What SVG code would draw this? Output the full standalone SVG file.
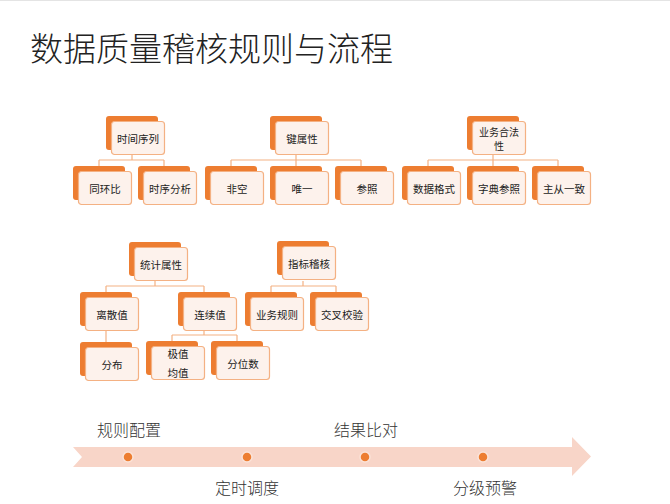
<svg xmlns="http://www.w3.org/2000/svg" width="670" height="504" viewBox="0 0 670 504">
<style>
.bk{fill:#ED7D31}
.fr{fill:#FDF2EC;stroke:#F4B183;stroke-width:1.2}
.t{font-family:"Noto Sans CJK SC","Noto Sans",sans-serif;font-size:10.5px;fill:#222;text-anchor:middle;dominant-baseline:central}
.ln{stroke:#F4B183;stroke-width:1.2;fill:none}
.tl{font-family:"Noto Sans CJK SC","Noto Sans",sans-serif;font-size:16px;font-weight:300;fill:#333;text-anchor:middle;dominant-baseline:central}
.dot{fill:#ED7D31;stroke:#FBE3D8;stroke-width:1.5}
</style>
<defs>
<g id="box">
<rect class="bk" x="0" y="0" width="52" height="34" rx="3"/>
<rect class="fr" x="5.5" y="5.5" width="53" height="33" rx="3"/>
</g>
</defs>
<rect x="0" y="0" width="670" height="504" fill="#fff"/>
<line x1="0" y1="0.5" x2="670" y2="0.5" stroke="#e4e4e4" stroke-width="1"/>
<text x="30" y="47" style="font-family:'Noto Sans CJK SC',sans-serif;font-size:33px;font-weight:300;fill:#222;dominant-baseline:central">数据质量稽核规则与流程</text>

<g id="connectors">
<path class="ln" d="M132 155V160M99 160H164M99 160V166M164 160V166"/>
<path class="ln" d="M296 155V160M231 160H361M231 160V166M296 160V166M361 160V166"/>
<path class="ln" d="M493 155V160M428 160H558M428 160V166M493 160V166M558 160V166"/>
<path class="ln" d="M155 281V286M106 286H204M106 286V292M204 286V292"/>
<path class="ln" d="M106 330V342"/>
<path class="ln" d="M204 330V335M172 335H237M172 335V341M237 335V341"/>
<path class="ln" d="M303 281V286M271 286H336M271 286V292M336 286V292"/>
</g>

<g id="n-shixu"><use href="#box" x="106" y="116"/><text class="t" x="138" y="138">时间序列</text></g>
<g id="n-jian"><use href="#box" x="270" y="116"/><text class="t" x="302" y="138">键属性</text></g>
<g id="n-yewu"><use href="#box" x="467" y="116"/><text class="t" x="499" y="131" style="font-size:10px">业务合法</text><text class="t" x="499" y="145.5" style="font-size:10px">性</text></g>

<g id="n-tonghuan"><use href="#box" x="73" y="166"/><text class="t" x="105" y="188">同环比</text></g>
<g id="n-shixufx"><use href="#box" x="138" y="166"/><text class="t" x="170" y="188">时序分析</text></g>
<g id="n-feikong"><use href="#box" x="205" y="166"/><text class="t" x="237" y="188">非空</text></g>
<g id="n-weiyi"><use href="#box" x="270" y="166"/><text class="t" x="302" y="188">唯一</text></g>
<g id="n-canzhao"><use href="#box" x="335" y="166"/><text class="t" x="367" y="188">参照</text></g>
<g id="n-geshi"><use href="#box" x="402" y="166"/><text class="t" x="434" y="188">数据格式</text></g>
<g id="n-zidian"><use href="#box" x="467" y="166"/><text class="t" x="499" y="188">字典参照</text></g>
<g id="n-zhucong"><use href="#box" x="532" y="166"/><text class="t" x="564" y="188">主从一致</text></g>

<g id="n-tongji"><use href="#box" x="129" y="242"/><text class="t" x="161" y="264">统计属性</text></g>
<g id="n-lisan"><use href="#box" x="80" y="292"/><text class="t" x="112" y="314">离散值</text></g>
<g id="n-lianxu"><use href="#box" x="178" y="292"/><text class="t" x="210" y="314">连续值</text></g>
<g id="n-fenbu"><use href="#box" x="80" y="342"/><text class="t" x="112" y="364">分布</text></g>
<g id="n-jizhi"><use href="#box" x="146" y="341"/><text class="t" x="178" y="353">极值</text><text class="t" x="178" y="372">均值</text></g>
<g id="n-fenwei"><use href="#box" x="211" y="341"/><text class="t" x="243" y="363">分位数</text></g>

<g id="n-zhibiao"><use href="#box" x="277" y="241"/><text class="t" x="309" y="263">指标稽核</text></g>
<g id="n-yewugz"><use href="#box" x="245" y="292"/><text class="t" x="277" y="314">业务规则</text></g>
<g id="n-jiaocha"><use href="#box" x="310" y="292"/><text class="t" x="342" y="314">交叉校验</text></g>

<g id="timeline">
<path d="M73 447H572V437L591 456.5L572 476V467H73L82 457Z" fill="#F8D5C8"/>
<circle class="dot" cx="128" cy="457" r="5"/>
<circle class="dot" cx="247" cy="457" r="5"/>
<circle class="dot" cx="365" cy="457" r="5"/>
<circle class="dot" cx="483" cy="457" r="5"/>
<text class="tl" x="129" y="429">规则配置</text>
<text class="tl" x="247" y="487">定时调度</text>
<text class="tl" x="366" y="429">结果比对</text>
<text class="tl" x="485" y="487">分级预警</text>
</g>
</svg>
